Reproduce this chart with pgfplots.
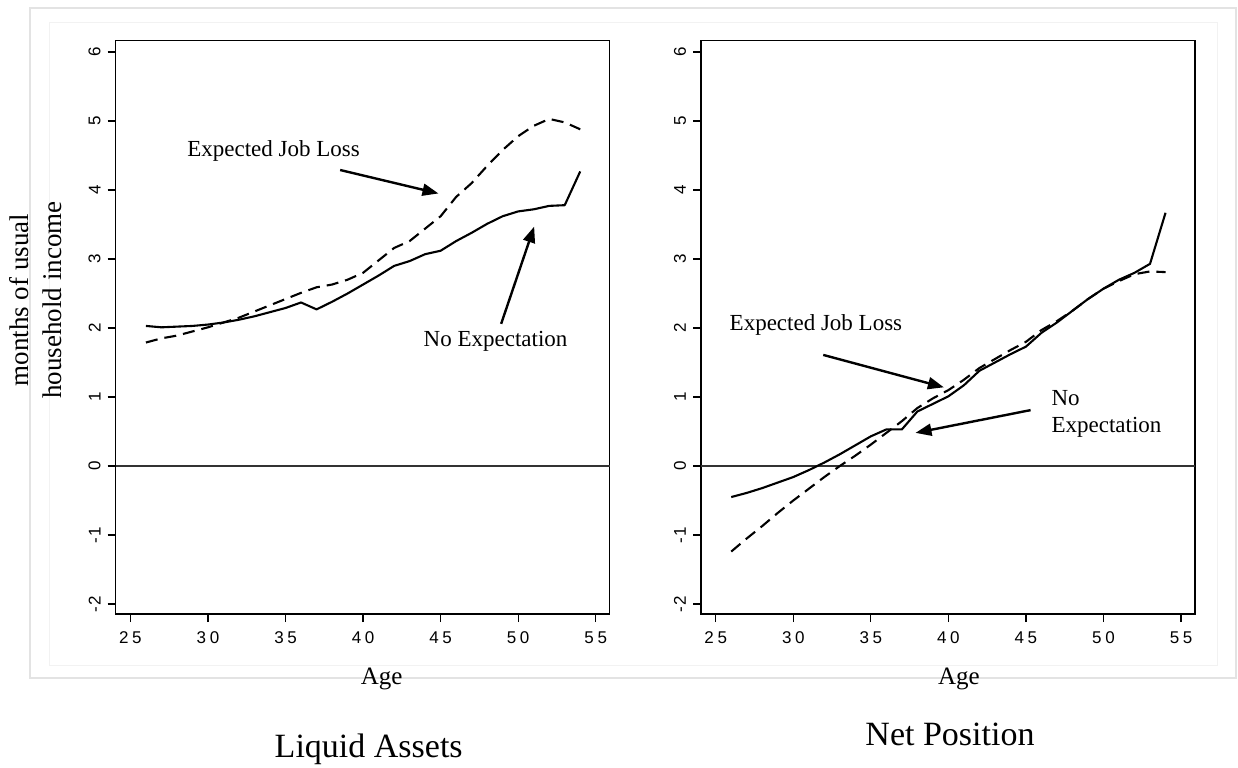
\documentclass[border=0pt]{standalone}
\usepackage{fontspec}
\setmainfont{Liberation Serif}
\newfontfamily\arial{Liberation Sans}
\usepackage{pgfplots}
\usepackage{pgfplotstable}
\pgfplotsset{compat=1.18}
\usetikzlibrary{arrows.meta}

% Liquid assets, in months of usual household income
\pgfplotstableread{
age  noexp  jobloss
26   2.03   1.79
27   2.01   1.85
28   2.02   1.89
29   2.03   1.95
30   2.05   2.01
31   2.08   2.08
32   2.12   2.15
33   2.17   2.24
34   2.23   2.33
35   2.29   2.42
36   2.37   2.51
37   2.27   2.59
38   2.38   2.63
39   2.50   2.70
40   2.63   2.80
41   2.76   2.98
42   2.90   3.16
43   2.97   3.26
44   3.07   3.44
45   3.12   3.62
46   3.26   3.90
47   3.38   4.10
48   3.51   4.35
49   3.62   4.58
50   3.69   4.78
51   3.72   4.93
52   3.77   5.03
53   3.78   4.98
54   4.27   4.88
}\liquid

% Net position, in months of usual household income
\pgfplotstableread{
age  noexp  jobloss
26   -0.45  -1.24
27   -0.39  -1.05
28   -0.32  -0.87
29   -0.24  -0.68
30   -0.16  -0.50
31   -0.06  -0.33
32    0.05  -0.16
33    0.17   0.00
34    0.30   0.15
35    0.43   0.31
36    0.53   0.48
37    0.53   0.65
38    0.79   0.84
39    0.90   0.98
40    1.01   1.10
41    1.17   1.25
42    1.38   1.42
43    1.50   1.55
44    1.62   1.68
45    1.73   1.80
46    1.93   1.97
47    2.08   2.10
48    2.25   2.25
49    2.42   2.42
50    2.57   2.57
51    2.70   2.68
52    2.80   2.78
53    2.93   2.82
54    3.67   2.81
}\netpos

\newcommand{\annfont}{\fontsize{11.5}{13.8}\selectfont}

\tikzset{
  ann/.style={-{Triangle[length=8pt,width=6pt]}, line width=1.2pt},
}

\pgfplotsset{
  panel/.style={
    scale only axis, width=247pt, height=286.65pt,
    anchor=south west,
    xmin=24.05, xmax=55.9, ymin=-2.145, ymax=6.164,
    xtick={25,30,35,40,45,50,55},
    xticklabels={2\kern1.8pt 5,3\kern1.8pt 0,3\kern1.8pt 5,4\kern1.8pt 0,4\kern1.8pt 5,5\kern1.8pt 0,5\kern1.8pt 5},
    ytick={-2,-1,0,1,2,3,4,5,6},
    yticklabels={-\kern0.8pt 2,-\kern0.8pt 1,0,1,2,3,4,5,6},
    xtick pos=bottom, ytick pos=left,
    tick align=outside, major tick length=4pt,
    tick style={black, line width=0.6pt},
    axis line style={line width=0.75pt},
    tick label style={font=\arial\fontsize{8.5}{10}\selectfont},
    yticklabel style={rotate=90, anchor=south},
    xticklabel style={anchor=north, yshift=-1.3pt},
    clip=false,
  },
  noexp/.style={black, line width=1.05pt, line join=round},
  jobloss/.style={black, line width=1.05pt, dash pattern=on 6pt off 3.5pt},
  zeroline/.style={black!80, line width=0.75pt},
}

\begin{document}
\begin{tikzpicture}
\path[use as bounding box] (0,0) rectangle (619pt,383.5pt);
% background frames
\draw[black!11, line width=0.8pt] (15pt,44.5pt) rectangle (618pt,379.35pt);
\draw[black!5, line width=0.5pt] (24.5pt,51pt) rectangle (608.5pt,372.15pt);

% left panel: liquid assets
\begin{axis}[panel, at={(57.85pt,76.5pt)}]
  \addplot[zeroline] coordinates {(24.05,0) (55.9,0)};
  \addplot[noexp] table[x=age, y=noexp] {\liquid};
  \addplot[jobloss] table[x=age, y=jobloss] {\liquid};
  \node[font=\annfont, anchor=base] at (axis cs:34.23,4.49) {Expected Job Loss};
  \draw[ann] (axis cs:38.52,4.29) -- (axis cs:44.86,3.95);
  \node[font=\annfont, anchor=base] at (axis cs:48.54,1.73) {No Expectation};
  \draw[ann] (axis cs:48.9,2.06) -- (axis cs:51.03,3.47);
\end{axis}

% right panel: net position
\begin{axis}[panel, at={(350.5pt,76.5pt)}]
  \addplot[zeroline] coordinates {(24.05,0) (55.9,0)};
  \addplot[noexp] table[x=age, y=noexp] {\netpos};
  \addplot[jobloss] table[x=age, y=jobloss] {\netpos};
  \node[font=\annfont, anchor=base] at (axis cs:31.46,1.97) {Expected Job Loss};
  \draw[ann] (axis cs:31.93,1.61) -- (axis cs:39.71,1.14);
  \node[font=\annfont, anchor=base west] at (axis cs:46.2,0.884) {No};
  \node[font=\annfont, anchor=base west] at (axis cs:46.2,0.483) {Expectation};
  \draw[ann] (axis cs:45.3,0.81) -- (axis cs:37.88,0.48);
\end{axis}

% axis labels and panel titles
\node[rotate=90, align=center, font=\fontsize{13.5}{16.5}\selectfont] at (18pt,233.5pt)
  {months of usual\\household income};
\node[anchor=base, font=\fontsize{12.5}{15}\selectfont] at (190.85pt,41.5pt) {Age};
\node[anchor=base, font=\fontsize{12.5}{15}\selectfont] at (479.5pt,41.5pt) {Age};
\node[anchor=base, font=\fontsize{17}{20}\selectfont] at (184.35pt,5pt) {Liquid Assets};
\node[anchor=base, font=\fontsize{17}{20}\selectfont] at (475pt,11pt) {Net Position};
\end{tikzpicture}
\end{document}
